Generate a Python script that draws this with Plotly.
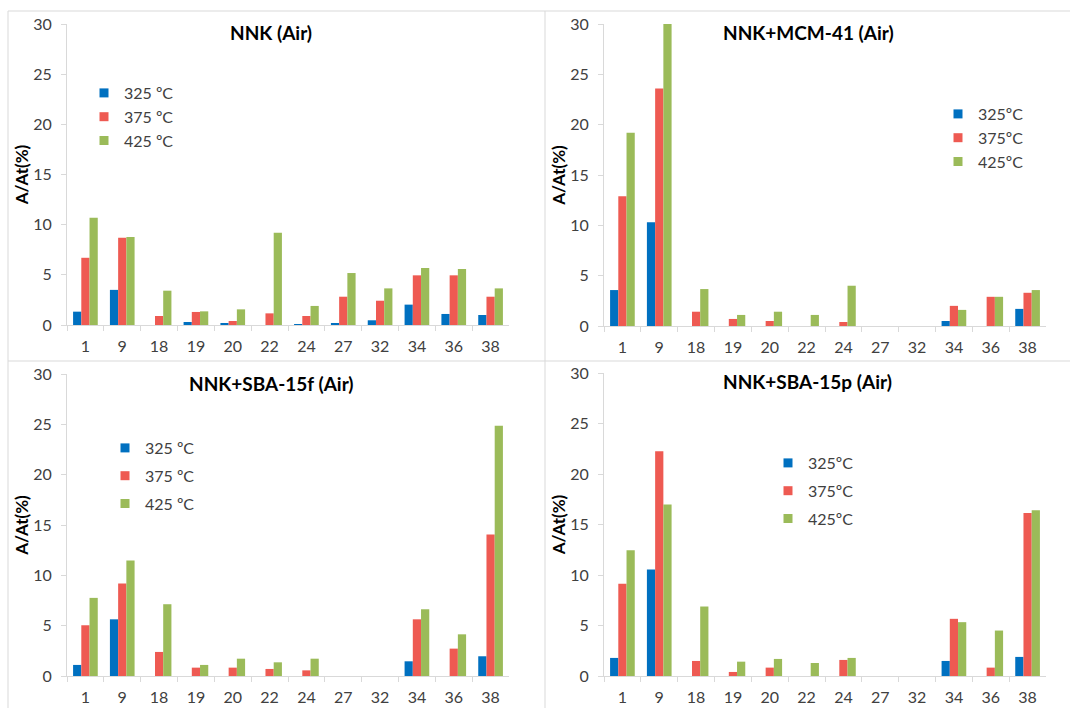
import plotly.graph_objects as go

categories = ["1", "9", "18", "19", "20", "22", "24", "27", "32", "34", "36", "38"]

titles = ["NNK (Air)", "NNK+MCM-41 (Air)", "NNK+SBA-15f (Air)", "NNK+SBA-15p (Air)"]

series_names_spaced = ["325 ºC", "375 ºC", "425 ºC"]
series_names_compact = ["325ºC", "375ºC", "425ºC"]

# Panel 1: NNK (Air)
nnk_325 = [1.33, 3.5, 0, 0.3, 0.17, 0, 0.1, 0.17, 0.47, 2.03, 1.1, 1.0]
nnk_375 = [6.7, 8.7, 0.9, 1.3, 0.4, 1.16, 0.9, 2.82, 2.42, 4.95, 4.95, 2.82]
nnk_425 = [10.7, 8.77, 3.42, 1.36, 1.56, 9.2, 1.9, 5.18, 3.65, 5.68, 5.58, 3.65]

# Panel 2: NNK+MCM-41 (Air)
mcm_325 = [3.57, 10.3, 0, 0, 0, 0, 0, 0, 0, 0.5, 0, 1.7]
mcm_375 = [12.9, 23.6, 1.42, 0.7, 0.5, 0, 0.4, 0, 0, 2.0, 2.9, 3.3]
mcm_425 = [19.2, 30.0, 3.67, 1.1, 1.42, 1.1, 4.0, 0, 0, 1.6, 2.9, 3.57]

# Panel 3: NNK+SBA-15f (Air)
sbaf_325 = [1.1, 5.63, 0, 0, 0, 0, 0, 0, 0, 1.46, 0, 1.96]
sbaf_375 = [5.04, 9.2, 2.39, 0.83, 0.83, 0.7, 0.56, 0, 0, 5.63, 2.72, 14.05]
sbaf_425 = [7.76, 11.47, 7.13, 1.1, 1.72, 1.36, 1.72, 0, 0, 6.63, 4.14, 24.86]

# Panel 4: NNK+SBA-15p (Air)
sbap_325 = [1.79, 10.55, 0, 0, 0, 0, 0, 0, 0, 1.49, 0, 1.89]
sbap_375 = [9.13, 22.26, 1.49, 0.4, 0.83, 0, 1.59, 0, 0, 5.66, 0.83, 16.14]
sbap_425 = [12.44, 16.97, 6.88, 1.42, 1.69, 1.29, 1.79, 0, 0, 5.33, 4.5, 16.4]

panels = [
    (nnk_325, nnk_375, nnk_425),
    (mcm_325, mcm_375, mcm_425),
    (sbaf_325, sbaf_375, sbaf_425),
    (sbap_325, sbap_375, sbap_425),
]
panel_names = [series_names_spaced, series_names_compact, series_names_spaced, series_names_compact]

colors = ["#0070C0", "#EE5A52", "#9BBB59"]

W, H = 1070, 708
FONT = "Lato, 'Open Sans', sans-serif"
GRID = "#D9D9D9"
TXT = "#404040"

def px(x):
    return x / W

def py(y):
    return 1 - y / H

# plot areas in pixels (left, right, top, bottom)
areas = [
    (67, 509, 24, 325),
    (604, 1046, 24, 326),
    (67, 509, 374, 676),
    (604, 1046, 373, 676),
]
title_pos = [(271, 32), (808, 32), (271, 383), (807, 381)]
legend_pos = [(84, 76), (938, 97), (105, 431), (768, 446)]
legend_gap = [0, 0, 4, 4]

fig = go.Figure()

for i, (vals, names) in enumerate(zip(panels, panel_names)):
    ax = "" if i == 0 else str(i + 1)
    leg = "legend" if i == 0 else f"legend{i + 1}"
    for j in range(3):
        fig.add_trace(go.Bar(
            x=categories, y=vals[j], name=names[j],
            marker=dict(color=colors[j], line=dict(width=0)),
            xaxis="x" + ax, yaxis="y" + ax,
            legend=leg, legendgroup=f"p{i}s{j}",
            showlegend=False, hoverinfo="skip",
        ))
    # legend entries with small square swatches
    for j in range(3):
        fig.add_trace(go.Scatter(
            x=[None], y=[None], name=names[j], mode="markers",
            marker=dict(symbol="square", size=9, color=colors[j], line=dict(width=0)),
            xaxis="x" + ax, yaxis="y" + ax,
            legend=leg, legendgroup=f"p{i}s{j}", showlegend=True,
            hoverinfo="skip",
        ))

layout = dict(
    width=W, height=H,
    margin=dict(l=0, r=0, t=0, b=0, pad=0, autoexpand=False),
    paper_bgcolor="white", plot_bgcolor="white",
    font=dict(family=FONT, size=16, color=TXT),
    barmode="group", bargap=0.33, bargroupgap=0,
    showlegend=True,
)

for i, (l, r, t, b) in enumerate(areas):
    ax = "" if i == 0 else str(i + 1)
    layout["xaxis" + ax] = dict(
        domain=[px(l), px(r)], anchor="y" + ax,
        type="category", categoryorder="array", categoryarray=categories,
        showline=True, linecolor=GRID, linewidth=1,
        ticks="outside", tickson="boundaries", ticklen=5, tickcolor=GRID,
        showgrid=False, zeroline=False,
        tickfont=dict(family=FONT, size=16, color=TXT),
        ticklabelstandoff=7,
        automargin=False,
        fixedrange=True,
    )
    layout["yaxis" + ax] = dict(
        domain=[py(b), py(t)], anchor="x" + ax,
        range=[0, 30], dtick=5, tick0=0,
        showline=True, linecolor=GRID, linewidth=1,
        ticks="outside", ticklen=5, tickcolor=GRID,
        showgrid=False, zeroline=False,
        tickfont=dict(family=FONT, size=16, color=TXT),
        ticklabelstandoff=6,
        automargin=False,
        title=dict(text="<b>A/At(%)</b>", font=dict(family=FONT, size=17, color="#000000"), standoff=0),
        fixedrange=True,
    )
    leg = "legend" if i == 0 else f"legend{i + 1}"
    lx, ly = legend_pos[i]
    layout[leg] = dict(
        x=px(lx), y=py(ly), xanchor="left", yanchor="top",
        bgcolor="rgba(0,0,0,0)", borderwidth=0,
        font=dict(family=FONT, size=16, color=TXT),
        tracegroupgap=legend_gap[i], traceorder="grouped",
        itemclick=False, itemdoubleclick=False,
    )

annotations = []
for i, (tx, ty) in enumerate(title_pos):
    annotations.append(dict(
        text="<b>" + titles[i] + "</b>", x=px(tx), y=py(ty),
        xref="paper", yref="paper", xanchor="center", yanchor="middle",
        showarrow=False, font=dict(family=FONT, size=19, color="#000000"),
    ))
layout["annotations"] = annotations

line = dict(color=GRID, width=1)
layout["shapes"] = [
    dict(type="line", xref="paper", yref="paper", x0=px(8), x1=1, y0=py(11), y1=py(11), line=line),
    dict(type="line", xref="paper", yref="paper", x0=px(8), x1=px(8), y0=py(11), y1=0, line=line),
    dict(type="line", xref="paper", yref="paper", x0=px(545), x1=px(545), y0=py(11), y1=0, line=line),
    dict(type="line", xref="paper", yref="paper", x0=px(8), x1=1, y0=py(361), y1=py(361), line=line),
]

fig.update_layout(**layout)
fig.write_html(
    "out.html",
    config={"displayModeBar": False, "responsive": False},
    post_script=(
        "document.documentElement.style.margin='0';"
        "document.body.style.margin='0';document.body.style.padding='0';"
        "var d=document.getElementById('{plot_id}');"
        "d.style.position='fixed';d.style.top='0px';d.style.left='0px';"
    ),
)
